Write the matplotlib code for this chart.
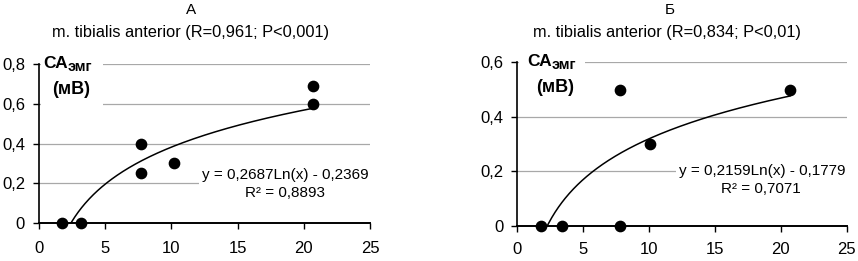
import numpy as np
import matplotlib.pyplot as plt
from matplotlib.patches import Rectangle

plt.rcParams['font.family'] = ['Liberation Sans', 'DejaVu Sans']

W, H = 858, 261

# panel A
x_a = [1.7, 3.2, 7.7, 7.7, 10.2, 20.7, 20.7]
y_a = [0.0, 0.0, 0.40, 0.25, 0.30, 0.69, 0.60]
coef_a = (0.2687, -0.2369)
eq_a = "y = 0,2687Ln(x) - 0,2369"
r2_a = "R² = 0,8893"
title_a = "m. tibialis anterior (R=0,961; P<0,001)"

# panel B
x_b = [1.8, 3.4, 7.8, 7.8, 10.1, 20.7]
y_b = [0.0, 0.0, 0.50, 0.0, 0.30, 0.50]
coef_b = (0.2159, -0.1779)
eq_b = "y = 0,2159Ln(x) - 0,1779"
r2_b = "R² = 0,7071"
title_b = "m. tibialis anterior (R=0,834; P<0,01)"

xticks = [0, 5, 10, 15, 20, 25]
yticks_a = [0, 0.2, 0.4, 0.6, 0.8]
ylabels_a = ['0', '0,2', '0,4', '0,6', '0,8']
yticks_b = [0, 0.2, 0.4, 0.6]
ylabels_b = ['0', '0,2', '0,4', '0,6']


def px(x, y):
    return x / W, 1 - y / H


def ptext(fig, x, y, s, **kw):
    fx, fy = px(x, y)
    return fig.text(fx, fy, s, **kw)


def draw_panel(ax, xs, ys, coef, yticks, ylabels, xpad):
    ax.set_xlim(0, 25)
    ax.set_ylim(0, yticks[-1])
    ax.set_xticks(xticks)
    ax.set_yticks(yticks)
    ax.set_yticklabels(ylabels)
    ax.yaxis.grid(True, color='#a8a8a8', lw=0.9)
    ax.set_axisbelow(True)
    for s in ['top', 'right']:
        ax.spines[s].set_visible(False)
    ax.spines['left'].set_linewidth(1.2)
    ax.spines['bottom'].set_linewidth(1.4)
    ax.tick_params(axis='x', direction='out', length=4, width=1, pad=xpad, labelsize=12)
    ax.tick_params(axis='y', direction='out', length=4, width=1, pad=6, labelsize=12)

    a, b = coef
    xx = np.linspace(min(xs), max(xs), 300)
    ax.plot(xx, a * np.log(xx) + b, color='black', lw=1.1, zorder=3)
    ax.scatter(xs, ys, s=55, color='black', zorder=4, clip_on=False)


fig = plt.figure(figsize=(W / 100, H / 100), dpi=100)

ax1 = fig.add_axes([39 / W, 1 - 223 / H, 331 / W, 159 / H])
draw_panel(ax1, x_a, y_a, coef_a, yticks_a, ylabels_a, 9)

ax2 = fig.add_axes([517.3 / W, 1 - 225.7 / H, 329.4 / W, 163.4 / H])
draw_panel(ax2, x_b, y_b, coef_b, yticks_b, ylabels_b, 8)

# titles
ptext(fig, 191, 10, "А", ha='center', va='center', fontsize=11)
ptext(fig, 191, 32, title_a, ha='center', va='center', fontsize=11.8)
ptext(fig, 670, 10, "Б", ha='center', va='center', fontsize=11)
ptext(fig, 667, 32, title_b, ha='center', va='center', fontsize=11.8)

# axis labels with white backgrounds
for (rx, ry, rw, rh), (cx, cy) in [((41, 53, 62, 57), (43, 64)),
                                   ((519, 52, 66, 48), (527, 62))]:
    fx, fy = px(rx, ry + rh)
    fig.patches.append(Rectangle((fx, fy), rw / W, rh / H, transform=fig.transFigure,
                                 facecolor='white', edgecolor='none', zorder=1))
    ptext(fig, cx, cy, "СА", ha='left', va='center', fontsize=12.5,
          fontweight='bold', zorder=2)
    ptext(fig, cx + 25, cy + 3, "эмг", ha='left', va='center', fontsize=10.5,
          fontweight='bold', zorder=2)
    ptext(fig, cx + 9, cy + 26, "(мВ)", ha='left', va='center', fontsize=13,
          fontweight='bold', zorder=2)

# trendline equations
box = dict(facecolor='white', edgecolor='none', pad=2)
ptext(fig, 285, 175, eq_a, ha='center', va='center', fontsize=11, bbox=box, zorder=2)
ptext(fig, 285, 193, r2_a, ha='center', va='center', fontsize=11, zorder=2)
ptext(fig, 762, 171, eq_b, ha='center', va='center', fontsize=11, bbox=box, zorder=2)
ptext(fig, 761, 189, r2_b, ha='center', va='center', fontsize=11, zorder=2)

fig.savefig('out.png', dpi=100)
